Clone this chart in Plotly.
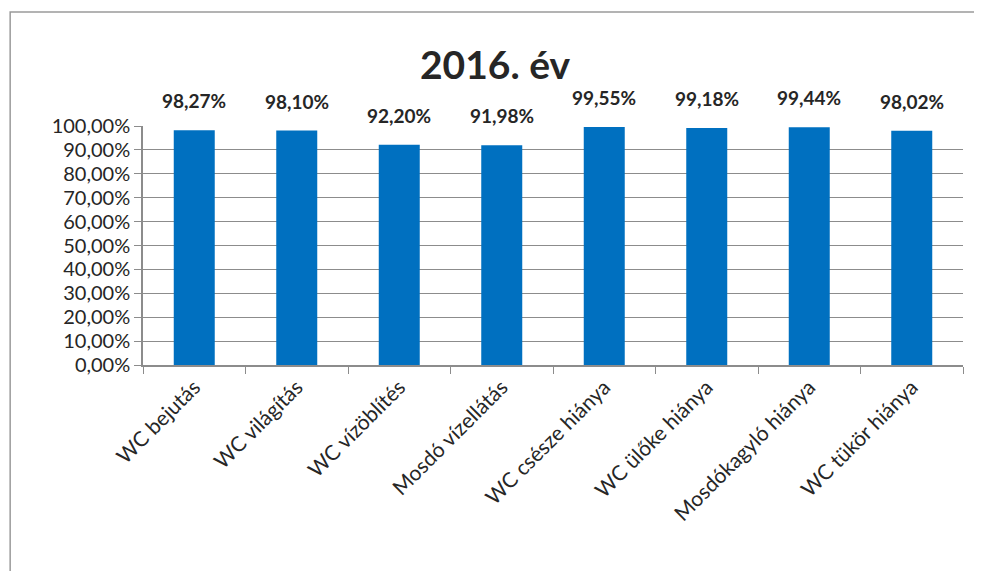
import plotly.graph_objects as go

categories = ["WC bejutás", "WC világítás", "WC vízöblítés", "Mosdó vízellátás",
              "WC csésze hiánya", "WC ülőke hiánya", "Mosdókagyló hiánya", "WC tükör hiánya"]
values = [98.27, 98.10, 92.20, 91.98, 99.55, 99.18, 99.44, 98.02]
labels = ["98,27%", "98,10%", "92,20%", "91,98%", "99,55%", "99,18%", "99,44%", "98,02%"]
tick_vals = [0, 10, 20, 30, 40, 50, 60, 70, 80, 90, 100]
tick_text = ["0,00%", "10,00%", "20,00%", "30,00%", "40,00%", "50,00%",
             "60,00%", "70,00%", "80,00%", "90,00%", "100,00%"]

font_family = "Lato, 'Open Sans', sans-serif"

fig = go.Figure()
fig.add_trace(go.Bar(
    x=categories,
    y=values,
    width=0.4,
    marker=dict(color="#0070C0", line=dict(width=0)),
    hoverinfo="x+y",
))

# data labels sit above each bar
for cat, val, lab in zip(categories, values, labels):
    fig.add_annotation(
        x=cat, y=val, text="<b>" + lab + "</b>",
        showarrow=False, yanchor="bottom", yshift=16,
        font=dict(size=19, color="#262626", family=font_family),
    )

# outer chart border
fig.add_shape(
    type="rect", xref="paper", yref="paper",
    x0=-0.162, x1=1.018, y0=-0.95, y1=1.477,
    line=dict(color="#9a9a9a", width=1.5), fillcolor="rgba(0,0,0,0)",
    layer="below",
)

fig.update_layout(
    title=dict(
        text="<b>2016. év</b>", x=0.5, xanchor="center", y=0.899, yanchor="middle",
        font=dict(size=39, color="#262626", family=font_family),
    ),
    width=974, height=563,
    margin=dict(l=135, r=19, t=118, b=206),
    plot_bgcolor="white",
    paper_bgcolor="white",
    showlegend=False,
    xaxis=dict(
        tickangle=-45,
        tickfont=dict(size=21, color="#262626", family=font_family),
        showline=True, linecolor="#8c8c8c", linewidth=1.5,
        ticks="outside", tickson="boundaries", ticklen=7, tickcolor="#8c8c8c",
        showgrid=False, automargin=False,
    ),
    yaxis=dict(
        range=[0, 100],
        tickvals=tick_vals,
        ticktext=tick_text,
        tickfont=dict(size=20, color="#262626", family=font_family),
        showline=True, linecolor="#8c8c8c", linewidth=1.5,
        ticks="outside", ticklen=7, tickcolor="#8c8c8c",
        showgrid=True, gridcolor="#8c8c8c", gridwidth=1,
        zeroline=False, automargin=False,
    ),
)

fig.write_html("out.html")
